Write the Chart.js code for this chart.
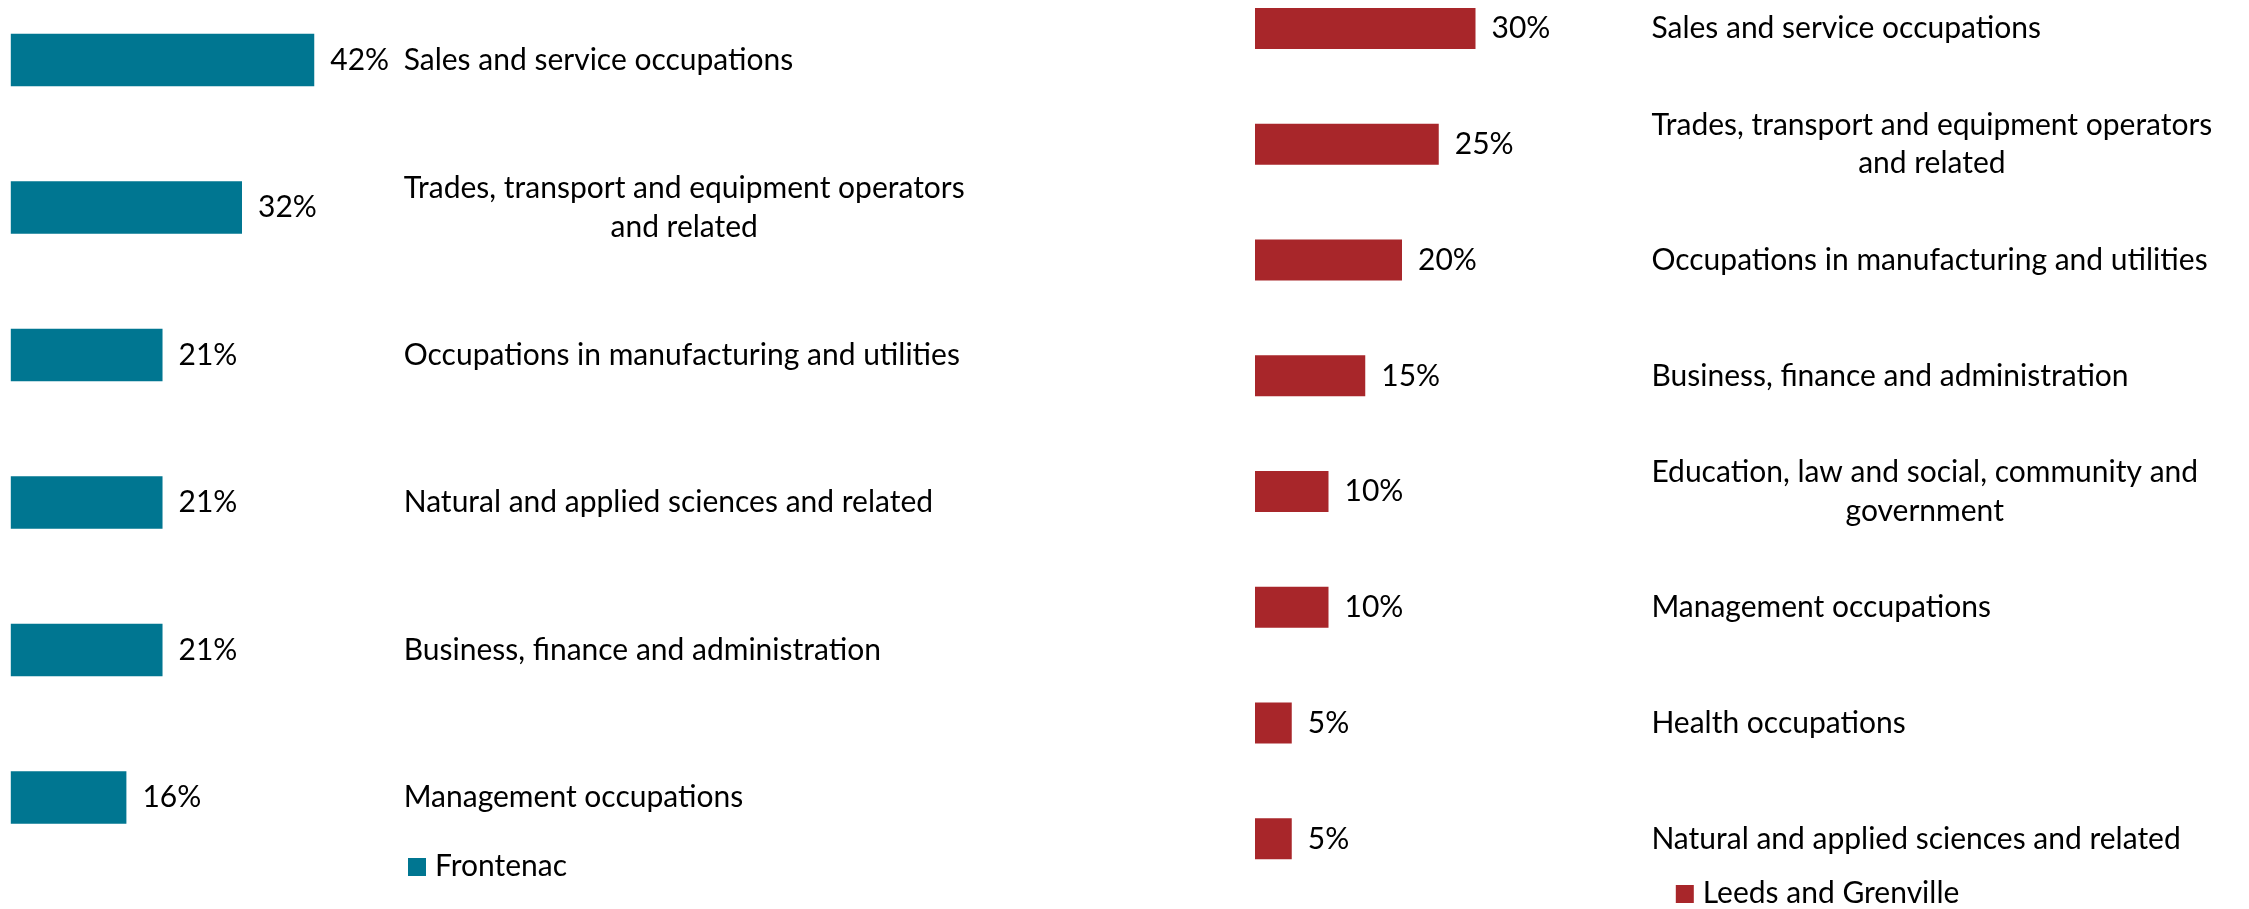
<!DOCTYPE html>
<html>
<head>
<meta charset="utf-8">
<script src="https://cdn.jsdelivr.net/npm/chart.js@4.4.1/dist/chart.umd.min.js"></script>
<style>
  html, body { margin: 0; padding: 0; background: #ffffff; overflow: hidden; }
  #wrap { position: relative; width: 2249px; height: 909px; }
  canvas { position: absolute; top: 0; }
  #frontenacChart { left: 0; }
  #leedsChart { left: 1124px; }
</style>
</head>
<body>
<div id="wrap">
  <canvas id="frontenacChart" width="1124" height="909"></canvas>
  <canvas id="leedsChart" width="1125" height="909"></canvas>
</div>
<script>
// Occupation shares, Frontenac
const frontenacLabel = 'Frontenac';
const frontenacCategories = [
  ['Sales and service occupations'],
  ['Trades, transport and equipment operators', 'and related'],
  ['Occupations in manufacturing and utilities'],
  ['Natural and applied sciences and related'],
  ['Business, finance and administration'],
  ['Management occupations']
];
const frontenacValues = [42, 32, 21, 21, 21, 16];

// Occupation shares, Leeds and Grenville
const leedsLabel = 'Leeds and Grenville';
const leedsCategories = [
  ['Sales and service occupations'],
  ['Trades, transport and equipment operators', 'and related'],
  ['Occupations in manufacturing and utilities'],
  ['Business, finance and administration'],
  ['Education, law and social, community and', 'government'],
  ['Management occupations'],
  ['Health occupations'],
  ['Natural and applied sciences and related']
];
const leedsValues = [30, 25, 20, 15, 10, 10, 5, 5];

const FONT_FAMILY = 'Lato, "Open Sans", sans-serif';

// Value labels next to the bars, wrapped category names in a column on the right
// (wrapped lines centred on each other), and a single-entry legend below them.
const sideTextPlugin = {
  id: 'sideText',
  afterDatasetsDraw(chart, args, opts) {
    const ctx = chart.ctx;
    const meta = chart.getDatasetMeta(0);
    const ds = chart.data.datasets[0];
    const yScale = chart.scales.y;
    const half = opts.fontSize * opts.capRatio / 2;
    ctx.save();
    ctx.font = opts.fontSize + 'px ' + FONT_FAMILY;
    ctx.fillStyle = opts.color;
    ctx.textBaseline = 'alphabetic';
    ctx.textAlign = 'left';

    meta.data.forEach((bar, i) => {
      ctx.fillText(ds.data[i] + '%', bar.x + opts.valueGap, bar.y + half);
    });

    chart.data.labels.forEach((lines, i) => {
      const yc = yScale.getPixelForValue(i);
      const widths = lines.map(l => ctx.measureText(l).width);
      const maxW = Math.max(...widths);
      lines.forEach((line, k) => {
        const y = yc + (k - (lines.length - 1) / 2) * opts.lineHeight + half;
        ctx.fillText(line, opts.labelX + (maxW - widths[k]) / 2, y);
      });
    });

    const lg = opts.legend;
    ctx.fillStyle = ds.backgroundColor;
    ctx.fillRect(lg.x, lg.y, lg.box, lg.box);
    ctx.fillStyle = opts.color;
    ctx.fillText(ds.label, lg.x + lg.box + lg.gap, lg.y + lg.box);
    ctx.restore();
  }
};

function makeChart(canvasId, categories, values, seriesLabel, color, layout) {
  return new Chart(document.getElementById(canvasId), {
    type: 'bar',
    data: {
      labels: categories,
      datasets: [{
        label: seriesLabel,
        data: values,
        backgroundColor: color,
        borderWidth: 0,
        categoryPercentage: 1,
        barPercentage: 0.355,
        clip: false
      }]
    },
    options: {
      indexAxis: 'y',
      responsive: false,
      animation: false,
      events: [],
      layout: { padding: layout.padding },
      scales: {
        x: { display: false, min: 0, max: layout.xMax },
        y: { display: false, offset: false }
      },
      plugins: {
        legend: { display: false },
        tooltip: { enabled: false },
        sideText: {
          fontSize: 30,
          capRatio: 0.66,
          lineHeight: 38.7,
          color: '#000000',
          valueGap: 16,
          labelX: layout.labelX,
          legend: layout.legend
        }
      }
    },
    plugins: [sideTextPlugin]
  });
}

makeChart('frontenacChart', frontenacCategories, frontenacValues, frontenacLabel, '#007691', {
  padding: { left: 10.8, right: 751.95, top: 60, bottom: 111.5 },
  xMax: 50,
  labelX: 403.7,
  legend: { x: 408, y: 858, box: 18, gap: 9 }
});

makeChart('leedsChart', leedsCategories, leedsValues, leedsLabel, '#A8262A', {
  padding: { left: 131, right: 700, top: 28.5, bottom: 70.3 },
  xMax: 40,
  labelX: 527.4,
  legend: { x: 551.8, y: 885, box: 18, gap: 9 }
});
</script>
</body>
</html>
